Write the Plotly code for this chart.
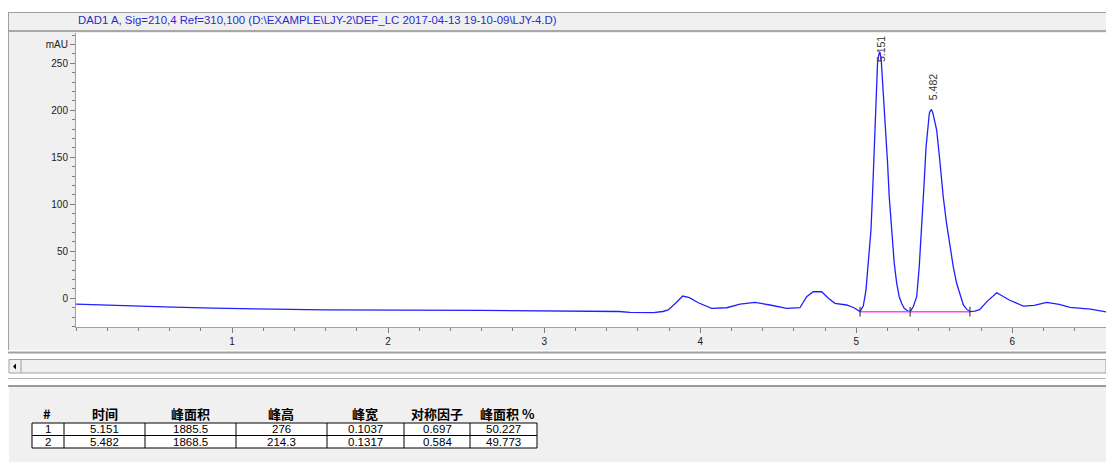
import plotly.graph_objects as go

# ---- chromatogram trace (retention time in min, signal in mAU) ----
time_min = [0.00, 0.11, 0.38, 0.62, 0.88, 1.26, 1.60, 2.60, 3.06, 3.48, 3.55, 3.70,
            3.76, 3.795, 3.84, 3.888, 3.93, 3.988, 4.073, 4.170, 4.255, 4.351,
            4.447, 4.554, 4.639, 4.682, 4.724, 4.778, 4.821, 4.863, 4.938, 4.985,
            5.024, 5.045, 5.062, 5.078, 5.094, 5.105, 5.115, 5.126, 5.136, 5.143,
            5.151, 5.159, 5.168, 5.179, 5.190, 5.200, 5.211, 5.227, 5.243, 5.259,
            5.275, 5.291, 5.307, 5.325, 5.345, 5.365, 5.387, 5.403, 5.419, 5.433,
            5.447, 5.458, 5.468, 5.475, 5.482, 5.490, 5.500, 5.515, 5.536, 5.557,
            5.578, 5.600, 5.622, 5.643, 5.665, 5.686, 5.707, 5.728, 5.76, 5.79,
            5.84, 5.90, 5.98, 6.07, 6.14, 6.22, 6.30, 6.37, 6.50, 6.60]
signal_mau = [-6.2, -6.9, -8.0, -9.4, -10.5, -11.6, -12.2, -12.8, -13.6, -14.0, -15.0, -15.3,
              -14.0, -12.4, -5.5, 2.4, 0.8, -4.7, -10.6, -10.0, -6.1, -4.3,
              -7.1, -10.6, -10.0, 1.7, 7.0, 7.0, 0.0, -5.3, -7.1, -10.0,
              -14.2, -8.0, 8.8, 38.0, 72.7, 115.0, 161.0, 208.0, 250.0, 258.0,
              262.2, 255.0, 232.0, 207.0, 179.0, 145.0, 108.0, 70.0, 37.5, 16.0,
              1.7, -5.5, -10.6, -13.0, -14.2, -9.0, 1.7, 33.0, 72.7, 118.0,
              161.0, 184.0, 196.8, 199.5, 200.5, 197.5, 191.0, 179.0, 145.0, 108.0,
              80.0, 55.0, 33.0, 16.0, 3.5, -7.1, -11.5, -14.2, -13.5, -12.0,
              -3.0, 6.0, -1.8, -8.2, -7.5, -4.3, -6.5, -9.6, -11.5, -14.5]

# ---- integration results ----
peak_rt = [5.151, 5.482]
peak_area = [1885.5, 1868.5]
peak_height = [276, 214.3]
peak_width = [0.1037, 0.1317]
peak_symmetry = [0.697, 0.584]
peak_area_pct = [50.227, 49.773]
baseline_t = [5.024, 5.345, 5.728]
baseline_level = -14.2

table_header = ["#", "时间", "峰面积", "峰高", "峰宽", "对称因子", "峰面积 %"]

title_text = "DAD1 A, Sig=210,4 Ref=310,100 (D:\\EXAMPLE\\LJY-2\\DEF_LC 2017-04-13 19-10-09\\LJY-4.D)"

W, H = 1106, 462
L, R, T, B = 76, 1106, 33, 327   # plot area in pixels


def px(x):
    return (x - L) / (R - L)


def py(y):
    return (B - y) / (B - T)


fig = go.Figure()

fig.add_trace(go.Scatter(
    x=time_min, y=signal_mau, mode="lines",
    line=dict(color="#1f1fff", width=1.3), hoverinfo="skip", showlegend=False))

fig.add_trace(go.Scatter(
    x=[baseline_t[0], baseline_t[-1]], y=[baseline_level, baseline_level], mode="lines",
    line=dict(color="#ff40ff", width=1.5), hoverinfo="skip", showlegend=False))

fig.add_trace(go.Scatter(
    x=baseline_t, y=[baseline_level] * len(baseline_t), mode="markers",
    marker=dict(symbol="line-ns", size=7, line=dict(color="#202020", width=1)),
    hoverinfo="skip", showlegend=False))

shapes = []


def rect(x0, y0, x1, y1, fill, line=None, lw=1):
    shapes.append(dict(type="rect", xref="paper", yref="paper", layer="below",
                       x0=px(x0), x1=px(x1), y0=py(y0), y1=py(y1),
                       fillcolor=fill,
                       line=dict(color=line or fill, width=lw if line else 0)))


def hline(x0, x1, y, color, w=1, layer="below"):
    shapes.append(dict(type="line", xref="paper", yref="paper", layer=layer,
                       x0=px(x0), x1=px(x1), y0=py(y), y1=py(y),
                       line=dict(color=color, width=w)))


def vline(x, y0, y1, color, w=1, layer="below"):
    shapes.append(dict(type="line", xref="paper", yref="paper", layer=layer,
                       x0=px(x), x1=px(x), y0=py(y0), y1=py(y1),
                       line=dict(color=color, width=w)))


# window panels
rect(8, 12, 1106, 350, "#f0f0f0")
hline(8, 1106, 12.5, "#a0a0a0")
hline(8, 1106, 31, "#a8a8a8", 2)
rect(L, T, R, B, "#ffffff")
vline(8.5, 12, 350, "#a0a0a0")
hline(8, 1106, 352.5, "#a0a0a0", 2)
rect(9, 359.5, 1106, 373, "#f0f0f0", "#a0a0a0", 1)
vline(21, 359.5, 373, "#a0a0a0")
shapes.append(dict(type="path", xref="paper", yref="paper", layer="below",
                   path=f"M {px(16)},{py(363.5)} L {px(16)},{py(369.5)} L {px(13)},{py(366.5)} Z",
                   fillcolor="#000000", line=dict(width=0)))
hline(8, 1106, 378.5, "#b4b4b4", 1)
hline(8, 1106, 386, "#9a9a9a", 2)
rect(9, 387, 1106, 462, "#f0f0f0")

# results table
col_edges = [32, 64, 145, 236, 327, 404, 470, 537]
row_edges = [423, 435.5, 448]
rect(col_edges[0], row_edges[0], col_edges[-1], row_edges[-1], "#ffffff")
for yy in row_edges:
    hline(col_edges[0], col_edges[-1], yy, "#000000", 1)
for xx in col_edges:
    vline(xx, row_edges[0], row_edges[-1], "#000000", 1)

annotations = []
annotations.append(dict(text=title_text, x=px(317), y=py(19.5), xref="paper", yref="paper",
                        showarrow=False, xanchor="center", yanchor="middle",
                        font=dict(family="Liberation Sans, Arial", size=11.4, color="#2a2ad0")))

header_x = [47, 105, 190, 281, 365, 437, 507]
for hx, htxt in zip(header_x, table_header):
    annotations.append(dict(text=f"<b>{htxt}</b>", x=px(hx), y=py(413.5), xref="paper", yref="paper",
                            showarrow=False, xanchor="center", yanchor="middle",
                            font=dict(family="Noto Sans CJK SC", size=13, color="#000000")))

for i in range(len(peak_rt)):
    cells = [str(i + 1), f"{peak_rt[i]:.3f}", f"{peak_area[i]:.1f}", f"{peak_height[i]:g}",
             f"{peak_width[i]:.4f}", f"{peak_symmetry[i]:.3f}", f"{peak_area_pct[i]:.3f}"]
    yc = (row_edges[i] + row_edges[i + 1]) / 2
    for c, txt in enumerate(cells):
        xc = (col_edges[c] + col_edges[c + 1]) / 2
        annotations.append(dict(text=txt, x=px(xc), y=py(yc), xref="paper", yref="paper",
                                showarrow=False, xanchor="center", yanchor="middle",
                                font=dict(family="Liberation Sans, Arial", size=11.5, color="#000000")))

# retention-time labels above each peak
for rt, h in zip(peak_rt, peak_height):
    apex = baseline_level + h
    label_y = min(apex + 8, 249)
    annotations.append(dict(text=f"{rt:.3f}", x=rt, y=label_y, xref="x", yref="y",
                            showarrow=False, textangle=-90, xanchor="center", yanchor="bottom",
                            xshift=1, font=dict(family="Liberation Sans, Arial", size=10.5, color="#333333")))

fig.update_layout(
    width=W, height=H, autosize=False,
    margin=dict(l=L, r=W - R, t=T, b=H - B, pad=0),
    paper_bgcolor="#ffffff", plot_bgcolor="#ffffff",
    shapes=shapes, annotations=annotations,
    xaxis=dict(range=[0, 6.6], showgrid=False, zeroline=False,
               tickmode="array", tickvals=[1, 2, 3, 4, 5, 6],
               ticks="outside", ticklen=5, tickcolor="#808080", tickwidth=1,
               showline=True, linecolor="#a0a0a0", linewidth=1,
               tickfont=dict(family="Liberation Sans, Arial", size=10, color="#202020"),
               minor=dict(dtick=0.2, tick0=0, ticks="outside", ticklen=3,
                          tickcolor="#808080", tickwidth=1)),
    yaxis=dict(range=[-30.5, 282.2], showgrid=False, zeroline=False,
               tickmode="array", tickvals=[0, 50, 100, 150, 200, 250, 270],
               ticktext=["0", "50", "100", "150", "200", "250", "mAU"],
               ticks="outside", ticklen=5, tickcolor="#808080", tickwidth=1,
               showline=True, linecolor="#a0a0a0", linewidth=1,
               tickfont=dict(family="Liberation Sans, Arial", size=10, color="#202020"),
               minor=dict(dtick=10, tick0=0, ticks="outside", ticklen=3,
                          tickcolor="#808080", tickwidth=1)),
)

fig.write_html("out.html")
